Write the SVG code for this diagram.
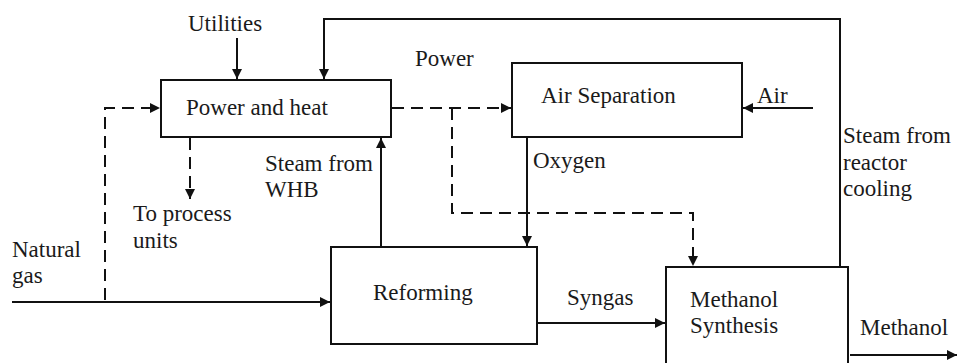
<svg xmlns="http://www.w3.org/2000/svg" width="958" height="363" viewBox="0 0 958 363">
<defs>
<style>
.t{font-family:'Liberation Serif','Times New Roman','DejaVu Serif',serif;font-size:23px;fill:#1a1a1a}
.box{fill:#fff;stroke:#111;stroke-width:2}
.ln{fill:none;stroke:#111;stroke-width:2}
.dash{fill:none;stroke:#111;stroke-width:2;stroke-dasharray:12 7}
</style>
<marker id="ah" viewBox="0 0 10 10" refX="10" refY="5" markerWidth="10" markerHeight="10" markerUnits="userSpaceOnUse" orient="auto">
<path d="M0,0 L10,5 L0,10 Z" fill="#111"/>
</marker>
</defs>
<rect width="958" height="363" fill="#fff"/>
<g id="connectors">
<path class="ln" d="M237,38 V79" marker-end="url(#ah)"/>
<path class="ln" d="M840,267 V19 H324 V79" marker-end="url(#ah)"/>
<path class="ln" d="M381,247 V138" marker-end="url(#ah)"/>
<path class="ln" d="M813,108 H743" marker-end="url(#ah)"/>
<path class="ln" d="M527,137 V246" marker-end="url(#ah)"/>
<path class="ln" d="M12,302 H330" marker-end="url(#ah)"/>
<path class="ln" d="M537,323 H665" marker-end="url(#ah)"/>
<path class="ln" d="M850,355 H957" marker-end="url(#ah)"/>
<path class="dash" d="M105,300 V108 H160" marker-end="url(#ah)"/>
<path class="dash" d="M190,138 V199" marker-end="url(#ah)"/>
<path class="dash" d="M392,108 H511" marker-end="url(#ah)"/>
<path class="dash" d="M452,108 V213 H693 V266" marker-end="url(#ah)"/>
</g>
<g id="power-heat">
<rect class="box" x="161" y="80" width="230" height="57"/>
<text class="t" x="186" y="115">Power and heat</text>
</g>
<g id="air-separation">
<rect class="box" x="512" y="63" width="230" height="74"/>
<text class="t" x="541" y="103">Air Separation</text>
</g>
<g id="reforming">
<rect class="box" x="331" y="247" width="206" height="97"/>
<text class="t" x="373" y="300">Reforming</text>
</g>
<g id="methanol-synthesis">
<rect class="box" x="666" y="267" width="182" height="110"/>
<text class="t" x="690" y="307">Methanol</text>
<text class="t" x="690" y="333">Synthesis</text>
</g>
<g id="labels" class="t">
<text x="188" y="31">Utilities</text>
<text x="415" y="66">Power</text>
<text x="757" y="103">Air</text>
<text x="533" y="168">Oxygen</text>
<text x="265" y="171">Steam from</text>
<text x="265" y="197">WHB</text>
<text x="843" y="143">Steam from</text>
<text x="843" y="170">reactor</text>
<text x="843" y="196">cooling</text>
<text x="133" y="221">To process</text>
<text x="133" y="248">units</text>
<text x="12" y="257">Natural</text>
<text x="12" y="283">gas</text>
<text x="567" y="305">Syngas</text>
<text x="860" y="335">Methanol</text>
</g>
</svg>
